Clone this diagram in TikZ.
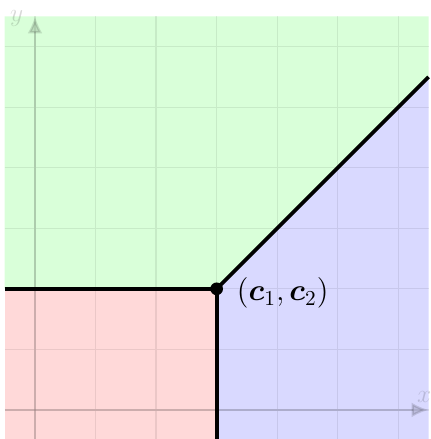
\documentclass[tikz,border=0pt]{standalone}
\usepackage{amsmath,bm}
\usetikzlibrary{arrows.meta}
\begin{document}
\begin{tikzpicture}[
  gridline/.style={black, opacity=0.08, line width=0.6pt},
  axisline/.style={black, opacity=0.13, line width=1.1pt, -{Latex[length=8pt,width=7pt]}},
  axislabel/.style={opacity=0.15, font=\large},
  border/.style={black, line width=1.8pt},
]
\useasboundingbox (-0.578,-0.48) rectangle (6.53,6.77);
\coordinate (P) at (3,2);
\coordinate (L) at (-0.5,2);
\coordinate (B) at (3,-0.5);
\coordinate (R) at (6.5,5.5);
% regions
\fill[red!15] (-0.5,-0.5) rectangle (P);
\fill[blue!15] (B) -- (6.5,-0.5) -- (R) -- (P) -- cycle;
\fill[green!15] (L) -- (P) -- (R) -- (6.5,6.5) -- (-0.5,6.5) -- cycle;
% grid
\draw[gridline] (-0.5,-0.5) grid (6.5,6.5);
% axes
\coordinate (xs) at (-0.5,0);
\coordinate (xe) at (6.5,0);
\coordinate (ys) at (0,-0.5);
\coordinate (ye) at (0,6.5);
\draw[axisline] (xs) -- (xe);
\draw[axisline] (ys) -- (ye);
\node[axislabel, above=0pt, xshift=-2pt] (xl) at (xe) {$x$};
\node[axislabel, left=2pt, yshift=-1pt] (yl) at (ye) {$y$};
% borders
\draw[border] (L) -- (P);
\draw[border] (B) -- (P);
\draw[border] (P) -- (R);
\fill (P) circle (0.105);
\node[anchor=west, font=\Large, xshift=6pt, yshift=-2pt] (pl) at (P) {$(\bm{c}_1,\bm{c}_2)$};
\end{tikzpicture}
\end{document}
